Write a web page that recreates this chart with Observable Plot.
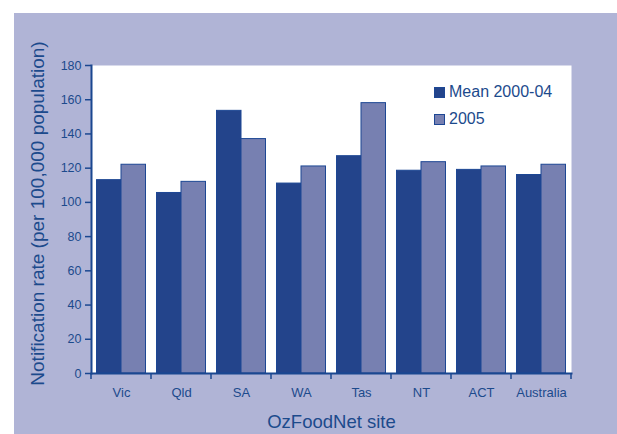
<!DOCTYPE html>
<html><head><meta charset="utf-8">
<script src="https://cdn.jsdelivr.net/npm/d3@7"></script>
<script src="https://cdn.jsdelivr.net/npm/@observablehq/plot@0.6"></script>
<style>
body{margin:0;background:#fff;}
#wrap{position:relative;width:617px;height:434px;overflow:hidden;font-family:"Liberation Sans",Arial,sans-serif;}
#bg{position:absolute;left:14px;top:13px;right:0;bottom:0;background:#b0b4d6;}
#chart{position:absolute;left:0;top:0;}
.leg{position:absolute;color:#1c4a8c;font-size:16px;line-height:16px;white-space:nowrap;}
.sw{position:absolute;width:9px;height:9px;border:1px solid #1d4794;}
</style></head>
<body>
<div id="wrap"><div id="bg"></div><div id="chart"></div><div id="legend"></div></div>
<script>
const sites = ["Vic","Qld","SA","WA","Tas","NT","ACT","Australia"];
const series = ["Mean 2000-04","2005"];
const mean0004 = [113, 105.5, 153.5, 111, 127, 118.5, 119, 116];
const rate2005 = [122, 112, 137, 121, 158, 123.5, 121, 122];
const yTicks = [0,20,40,60,80,100,120,140,160,180];
const yLabel = "Notification rate (per 100,000 population)";
const xLabel = "OzFoodNet site";

const darkFill = "#23448b", lightFill = "#7780b1";
const barStroke = "#1d4794", axisColor = "#1a4790", textColor = "#1c4a8c";

const rowsMean = sites.map((s,i)=>({site:s, series:series[0], value:mean0004[i]}));
const rows2005 = sites.map((s,i)=>({site:s, series:series[1], value:rate2005[i]}));

const boundaryTicks = (index, scales) => {
  const x = scales.x;
  const step = x(sites[1]) - x(sites[0]);
  const xs = sites.map(s => x(s)).concat([x(sites[sites.length-1]) + step]);
  const y0 = scales.y(0);
  const g = d3.create("svg:g").attr("stroke", axisColor).attr("stroke-width", 1.5);
  for (const xv of xs) g.append("line").attr("x1", xv).attr("x2", xv).attr("y1", y0).attr("y2", y0 + 6);
  return g.node();
};

const chart = Plot.plot({
  width: 617, height: 434,
  marginLeft: 91, marginRight: 46, marginTop: 65, marginBottom: 61,
  style: {background: "transparent", color: textColor, fontFamily: "'Liberation Sans', Arial, sans-serif", overflow: "visible"},
  x: {type: "band", domain: sites, padding: 0, axis: null},
  y: {domain: [0, 180], axis: null},
  marks: [
    Plot.frame({fill: "white", stroke: "none"}),
    Plot.barY(rowsMean, {x: "site", y: "value", fill: darkFill, stroke: barStroke, strokeWidth: 1, insetLeft: 5.5, insetRight: 30}),
    Plot.barY(rows2005, {x: "site", y: "value", fill: lightFill, stroke: barStroke, strokeWidth: 1, insetLeft: 30, insetRight: 5.5}),
    Plot.axisY({ticks: yTicks, tickSize: 6, tickPadding: 4, fontSize: 12.5, label: null, stroke: axisColor, strokeWidth: 1.5}),
    Plot.axisX({tickSize: 0, tickPadding: 14, fontSize: 13, label: null}),
    Plot.frame({anchor: "left", stroke: axisColor, strokeWidth: 2}),
    Plot.frame({anchor: "bottom", stroke: axisColor, strokeWidth: 2}),
    boundaryTicks,
    Plot.text([yLabel], {frameAnchor: "left", textAnchor: "middle", lineAnchor: "middle", dx: -54, dy: -6, rotate: -90, fontSize: 19, fill: textColor}),
    Plot.text([xLabel], {frameAnchor: "bottom", textAnchor: "middle", lineAnchor: "middle", dy: 49, fontSize: 18.5, fill: textColor})
  ]
});
document.getElementById("chart").appendChild(chart);

const legend = document.getElementById("legend");
const legendColors = [darkFill, lightFill];
series.forEach((name, i) => {
  const top = 87 + i * 27;
  const sw = document.createElement("div");
  sw.className = "sw"; sw.style.left = "434px"; sw.style.top = top + "px"; sw.style.background = legendColors[i];
  legend.appendChild(sw);
  const t = document.createElement("div");
  t.className = "leg"; t.style.left = "449px"; t.style.top = (top - 3) + "px"; t.textContent = name;
  legend.appendChild(t);
});
</script>
</body></html>
